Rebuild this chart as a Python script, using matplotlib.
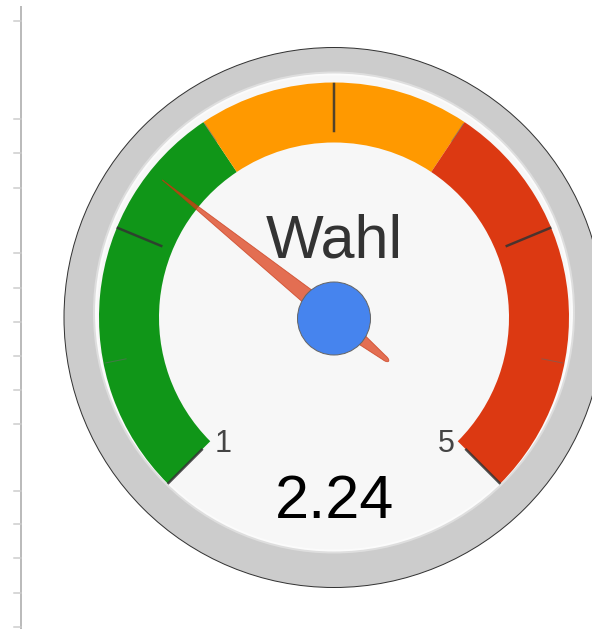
import numpy as np
import matplotlib
matplotlib.use('Agg')
import matplotlib.pyplot as plt
from matplotlib.patches import Circle, Wedge, Polygon

plt.rcParams['font.family'] = ['Liberation Sans', 'DejaVu Sans']

# gauge data
label = 'Wahl'
value = 2.24
v_min = 1
v_max = 5
band_ranges = [(1, 2.5), (2.5, 3.5), (3.5, 5)]
band_colors = ['#109618', '#ff9900', '#dc3912']
major_ticks = [1, 2, 3, 4, 5]
minor_ticks = [1.5, 2.5, 3.5, 4.5]
end_labels = ['1', '5']
# clipped axis of the neighbouring chart on the left (pixel rows)
side_ticks_y = [21, 119, 153, 188, 253, 288, 322, 356, 390, 424, 491, 524, 558, 593, 627]

W, H = 592, 629
cx, cy = 334, H - 317.5
R = 270
PX = 0.72  # points per pixel at dpi 100


def angle(v):
    return 225 - (v - v_min) / (v_max - v_min) * 270


def pt(r, a):
    t = np.radians(a)
    return cx + r * np.cos(t), cy + r * np.sin(t)


fig = plt.figure(figsize=(W / 100, H / 100), dpi=100)
ax = fig.add_axes([0, 0, 1, 1])
ax.set_xlim(0, W)
ax.set_ylim(0, H)
ax.axis('off')

# left side axis
ax.plot([21, 21], [0, H - 6], color='#bbbbbb', lw=2 * PX, solid_capstyle='butt')
for y in side_ticks_y:
    ax.plot([14, 21], [H - y, H - y], color='#cccccc', lw=1.5 * PX)

# body
ax.add_patch(Circle((cx, cy), R, facecolor='#cccccc', edgecolor='#333333', lw=1 * PX))
ax.add_patch(Circle((cx, cy + 5), 239, facecolor='none', edgecolor='#dedede', lw=4 * PX))
ax.add_patch(Circle((cx, cy + 5), 238, facecolor='#f7f7f7', edgecolor='#fbfbfb', lw=2 * PX))

# colour bands
r_out, r_in = 235, 175
for (lo, hi), col in zip(band_ranges, band_colors):
    ax.add_patch(Wedge((cx, cy), r_out, angle(hi), angle(lo), width=r_out - r_in,
                       facecolor=col, edgecolor='none'))

# ticks
for v in minor_ticks:
    a = angle(v)
    x0, y0 = pt(212, a)
    x1, y1 = pt(233, a)
    ax.plot([x0, x1], [y0, y1], color='#666666', lw=1 * PX, alpha=0.6)
for v in major_ticks:
    a = angle(v)
    x0, y0 = pt(187, a)
    x1, y1 = pt(234, a)
    ax.plot([x0, x1], [y0, y1], color='#333333', lw=2.5 * PX, alpha=0.85)

# end labels
for v, txt, dx in zip([v_min, v_max], end_labels, [13, -11]):
    x, y = pt(r_in, angle(v))
    ax.text(x + dx, y - 11, txt, ha='center', va='baseline', fontsize=22, color='#444444')

# title and value
ax.text(cx, H - 258, label, ha='center', va='baseline', fontsize=44, color='#333333')
ax.text(cx, H - 518, f'{value:.2f}', ha='center', va='baseline', fontsize=44, color='#000000')

# needle: leaf shaped, long thin front and short tapered tail
a = np.radians(angle(value))
s_front = np.linspace(0, 220, 50)
w_front = 9 * (1 - s_front / 220)
s_tail = np.linspace(-64, 0, 20)
w_tail = 2.5 + (9 - 2.5) * (s_tail + 64) / 64
cap = np.linspace(np.pi / 2, np.pi, 10)
s_cap = -64 + 2.5 * 2.4 * np.cos(cap)
w_cap = 2.5 * np.sin(cap)
s_all = np.concatenate([s_cap[::-1], s_tail[1:], s_front[1:]])
w_all = np.concatenate([w_cap[::-1], w_tail[1:], w_front[1:]])
ux, uy = np.cos(a), np.sin(a)
nx, ny = -uy, ux
upper = np.column_stack([cx + s_all * ux + w_all * nx, cy + s_all * uy + w_all * ny])
lower = np.column_stack([cx + s_all * ux - w_all * nx, cy + s_all * uy - w_all * ny])
needle = np.vstack([upper, lower[::-1]])
ax.add_patch(Polygon(needle, closed=True, facecolor='#dc3912', alpha=0.72,
                     edgecolor='#c63310', lw=0.8 * PX))

# hub
ax.add_patch(Circle((cx, cy - 1), 36.5, facecolor='#4684ee', edgecolor='#666666', lw=1 * PX))

fig.savefig('out.png', dpi=100, facecolor='white')
